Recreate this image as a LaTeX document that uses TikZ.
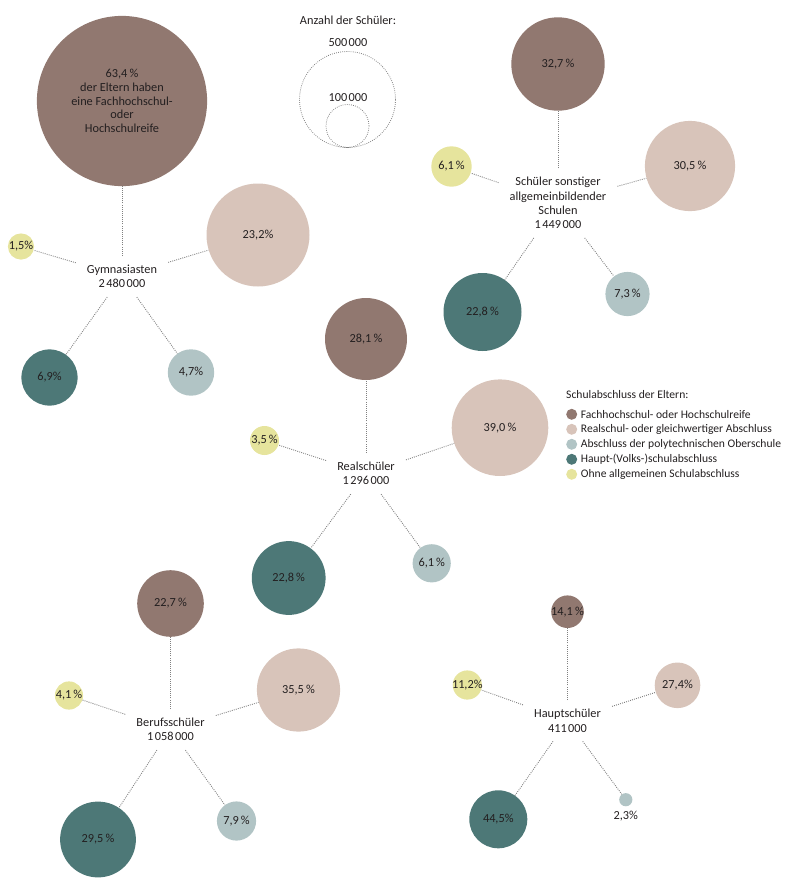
\documentclass[tikz,border=0pt]{standalone}
\usepackage{fontspec}
\setmainfont{Carlito}
\definecolor{fhr}{HTML}{917870}
\definecolor{rsa}{HTML}{D8C4BA}
\definecolor{pos}{HTML}{B1C4C5}
\definecolor{hsa}{HTML}{4D7877}
\definecolor{oha}{HTML}{E6E49D}
\definecolor{txt}{HTML}{231F20}
\definecolor{linkgray}{HTML}{808080}
\tikzset{
  bub/.style={circle, inner sep=0pt, minimum size=#1},
  grp/.style={rectangle, align=center, inner xsep=11pt, inner ysep=9pt},
  lnk/.style={draw=linkgray, line width=0.9pt, dash pattern=on 0.9pt off 1.2pt},
  ring/.style={circle, draw=linkgray, line width=0.8pt, dash pattern=on 0.8pt off 1.3pt, inner sep=0pt, minimum size=#1},
  key/.style={circle, inner sep=0pt, minimum size=11pt},
  keytext/.style={anchor=west, inner sep=0pt, font=\fontsize{11.6}{14}\selectfont},
}
\newcommand{\ts}{\kern0.12em}
\begin{document}
\begin{tikzpicture}[x=1pt, y=-1pt, font=\fontsize{12.3}{14.3}\selectfont, text=txt]
    \useasboundingbox (0,0) rectangle (788,884);

    % Anzahl der Schueler
    \node (anz) at (348,20) {Anzahl der Schüler:};
    \node[ring=96pt] (r500) at (347.5,99.5) {};
    \node[ring=43pt] (r100) at (347.5,126) {};
    \node (t500) at (348,43) {500\ts000};
    \node (t100) at (348,98) {100\ts000};

    % Gymnasiasten
    \node[grp] (gy) at (122,276.5) {Gymnasiasten\\2\ts480\ts000};
    \node[bub=170.2pt, fill=fhr, label={[align=center, font=\fontsize{12.3}{13.7}\selectfont]center:63,4\,\%\\der Eltern haben\\eine Fachhochschul-\\oder\\Hochschulreife}] (gyA) at (122,101) {};
    \node[bub=103pt, fill=rsa, label={center:23,2\%}] (gyB) at (258,235) {};
    \node[bub=46.4pt, fill=pos, label={center:4,7\%}] (gyC) at (191,372.5) {};
    \node[bub=56.2pt, fill=hsa, label={center:6,9\%}] (gyD) at (49.5,377.5) {};
    \node[bub=26.2pt, fill=oha, label={center:1,5\%}] (gyE) at (21,246.5) {};
    \draw[lnk] (gy) -- (gyA);
    \draw[lnk] (gy) -- (gyB);
    \draw[lnk] (gy) -- (gyC);
    \draw[lnk] (gy) -- (gyD);
    \draw[lnk] (gy) -- (gyE);

    % sonstige allgemeinbildende Schulen
    \node[grp] (so) at (558,203) {Schüler sonstiger\\allgemeinbildender\\Schulen\\1\ts449\ts000};
    \node[bub=93.4pt, fill=fhr, label={center:32,7\,\%}] (soA) at (558,64) {};
    \node[bub=90.2pt, fill=rsa, label={center:30,5\,\%}] (soB) at (690,166) {};
    \node[bub=44.2pt, fill=pos, label={center:7,3\,\%}] (soC) at (627.5,294) {};
    \node[bub=78pt, fill=hsa, label={center:22,8\,\%}] (soD) at (482.5,312) {};
    \node[bub=40.4pt, fill=oha, label={center:6,1\,\%}] (soE) at (451.5,166.5) {};
    \draw[lnk] (so) -- (soA);
    \draw[lnk] (so) -- (soB);
    \draw[lnk] (so) -- (soC);
    \draw[lnk] (so) -- (soD);
    \draw[lnk] (so) -- (soE);

    % Realschueler
    \node[grp] (re) at (366,473.5) {Realschüler\\1\ts296\ts000};
    \node[bub=82pt, fill=fhr, label={center:28,1\,\%}] (reA) at (366,339) {};
    \node[bub=96.6pt, fill=rsa, label={center:39,0\,\%}] (reB) at (500,427.7) {};
    \node[bub=38.2pt, fill=pos, label={center:6,1\,\%}] (reC) at (431.7,563.3) {};
    \node[bub=73.8pt, fill=hsa, label={center:22,8\,\%}] (reD) at (288.7,578) {};
    \node[bub=29pt, fill=oha, label={center:3,5\,\%}] (reE) at (264.5,440.5) {};
    \draw[lnk] (re) -- (reA);
    \draw[lnk] (re) -- (reB);
    \draw[lnk] (re) -- (reC);
    \draw[lnk] (re) -- (reD);
    \draw[lnk] (re) -- (reE);

    % Berufsschueler
    \node[grp] (be) at (170.5,729.5) {Berufsschüler\\1\ts058\ts000};
    \node[bub=66.6pt, fill=fhr, label={center:22,7\,\%}] (beA) at (170.5,603.5) {};
    \node[bub=83.2pt, fill=rsa, label={center:35,5\,\%}] (beB) at (298.5,690) {};
    \node[bub=39.2pt, fill=pos, label={center:7,9\,\%}] (beC) at (236.5,821) {};
    \node[bub=75.8pt, fill=hsa, label={center:29,5\,\%}] (beD) at (98,839.5) {};
    \node[bub=28.2pt, fill=oha, label={center:4,1\,\%}] (beE) at (69,695.5) {};
    \draw[lnk] (be) -- (beA);
    \draw[lnk] (be) -- (beB);
    \draw[lnk] (be) -- (beC);
    \draw[lnk] (be) -- (beD);
    \draw[lnk] (be) -- (beE);

    % Hauptschueler
    \node[grp] (ha) at (567.5,720.7) {Hauptschüler\\411\ts000};
    \node[bub=32.6pt, fill=fhr, label={center:14,1\,\%}] (haA) at (567.5,611.7) {};
    \node[bub=45.6pt, fill=rsa, label={center:27,4\%}] (haB) at (677.5,685.3) {};
    \node[bub=13.2pt, fill=pos, label={[label distance=1pt]below:2,3\%}] (haC) at (625.8,799.7) {};
    \node[bub=58pt, fill=hsa, label={center:44,5\%}] (haD) at (498.3,819.3) {};
    \node[bub=29.2pt, fill=oha, label={center:11,2\%}] (haE) at (467.3,685) {};
    \draw[lnk] (ha) -- (haA);
    \draw[lnk] (ha) -- (haB);
    \draw[lnk] (ha) -- (haC);
    \draw[lnk] (ha) -- (haD);
    \draw[lnk] (ha) -- (haE);

    % Legende Schulabschluss
    \node[keytext] (leg) at (566,395) {Schulabschluss der Eltern:};
    \node[key, fill=fhr] (k1) at (571.7,414.3) {};
    \node[key, fill=rsa] (k2) at (571.7,429.3) {};
    \node[key, fill=pos] (k3) at (571.7,444.3) {};
    \node[key, fill=hsa] (k4) at (571.7,459.3) {};
    \node[key, fill=oha] (k5) at (571.7,474.3) {};
    \node[keytext] (l1) at (580.7,414.3) {Fachhochschul- oder Hochschulreife};
    \node[keytext] (l2) at (580.7,429.3) {Realschul- oder gleichwertiger Abschluss};
    \node[keytext] (l3) at (580.7,444.3) {Abschluss der polytechnischen Oberschule};
    \node[keytext] (l4) at (580.7,459.3) {Haupt-(Volks-)schulabschluss};
    \node[keytext] (l5) at (580.7,474.3) {Ohne allgemeinen Schulabschluss};
\end{tikzpicture}
\end{document}
